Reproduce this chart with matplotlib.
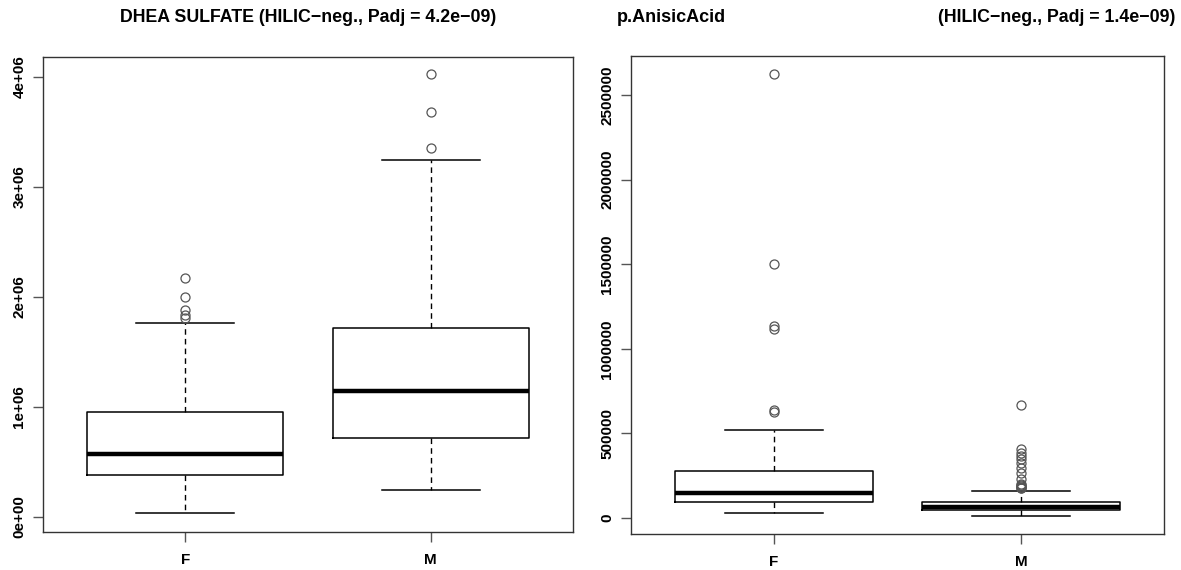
import matplotlib
matplotlib.use("Agg")
import matplotlib.pyplot as plt
from matplotlib.ticker import FuncFormatter

plt.rcParams['font.family'] = ['Liberation Sans', 'DejaVu Sans']
plt.rcParams['font.weight'] = 'bold'

groups = ['F', 'M']

# DHEA SULFATE box stats
dhea_whislo = [0.03e6, 0.245e6]
dhea_q1 = [0.38e6, 0.72e6]
dhea_med = [0.57e6, 1.14e6]
dhea_q3 = [0.95e6, 1.72e6]
dhea_whishi = [1.76e6, 3.24e6]
dhea_fliers = [[2.17e6, 2.0e6, 1.88e6, 1.83e6, 1.81e6],
               [4.02e6, 3.68e6, 3.35e6]]

# p.AnisicAcid box stats
anis_whislo = [30000, 12000]
anis_q1 = [94000, 47000]
anis_med = [148000, 66000]
anis_q3 = [278000, 92000]
anis_whishi = [520000, 160000]
anis_fliers = [[2624000, 1501000, 1135000, 1117000, 638000, 626000],
               [668000, 408000, 384000, 366000, 349000, 325000, 296000,
                266000, 230000, 200000, 195000, 190000, 185000, 180000, 175000]]


def make_stats(lo, q1, med, q3, hi, fl):
    out = []
    for i in range(len(groups)):
        out.append(dict(label=groups[i], whislo=lo[i], q1=q1[i], med=med[i],
                        q3=q3[i], whishi=hi[i], fliers=fl[i]))
    return out


def draw_box(ax, stats):
    ax.bxp(stats, positions=[1, 2], widths=0.8, capwidths=0.4,
           boxprops=dict(color='black', linewidth=1.1),
           whiskerprops=dict(color='black', linewidth=1.0, linestyle=(0, (4, 3))),
           capprops=dict(color='black', linewidth=1.1),
           medianprops=dict(color='black', linewidth=3.2, solid_capstyle='butt'),
           flierprops=dict(marker='o', markersize=6.5, markerfacecolor='none',
                           markeredgecolor='#555555', markeredgewidth=0.9))
    ax.set_xlim(0.42, 2.58)
    for s in ax.spines.values():
        s.set_color('#333333')
        s.set_linewidth(1.0)
    ax.tick_params(axis='both', length=7, width=1, color='#555555')
    ax.tick_params(axis='y', pad=5, labelsize=11)
    ax.tick_params(axis='x', pad=8, labelsize=11)


fig = plt.figure(figsize=(11.81, 5.70), dpi=100)
ax1 = fig.add_axes([43 / 1181, 1 - 532 / 570, 530 / 1181, 475 / 570])
ax2 = fig.add_axes([631 / 1181, 1 - 534 / 570, 533 / 1181, 478 / 570])

draw_box(ax1, make_stats(dhea_whislo, dhea_q1, dhea_med, dhea_q3, dhea_whishi, dhea_fliers))
ax1.set_ylim(-0.139e6, 4.179e6)
ax1.set_yticks([0, 1e6, 2e6, 3e6, 4e6])
ax1.yaxis.set_major_formatter(FuncFormatter(lambda v, p: '%.0e' % v))

draw_box(ax2, make_stats(anis_whislo, anis_q1, anis_med, anis_q3, anis_whishi, anis_fliers))
ax2.set_ylim(-94600, 2730000)
ax2.set_yticks([0, 500000, 1000000, 1500000, 2000000, 2500000])
ax2.yaxis.set_major_formatter(FuncFormatter(lambda v, p: '%d' % v))

for ax in (ax1, ax2):
    for lab in ax.get_yticklabels():
        lab.set_rotation(90)
        lab.set_va('center')

fig.text(308 / 1181, 1 - 18 / 570, 'DHEA SULFATE (HILIC\u2212neg., Padj = 4.2e\u221209)',
         ha='center', va='center', fontsize=12.8, fontweight='bold')
fig.text(617 / 1181, 1 - 18 / 570, 'p.AnisicAcid',
         ha='left', va='center', fontsize=13, fontweight='bold')
fig.text(1175 / 1181, 1 - 18 / 570, '(HILIC\u2212neg., Padj = 1.4e\u221209)',
         ha='right', va='center', fontsize=12.8, fontweight='bold')

fig.savefig("out.png", dpi=100)
